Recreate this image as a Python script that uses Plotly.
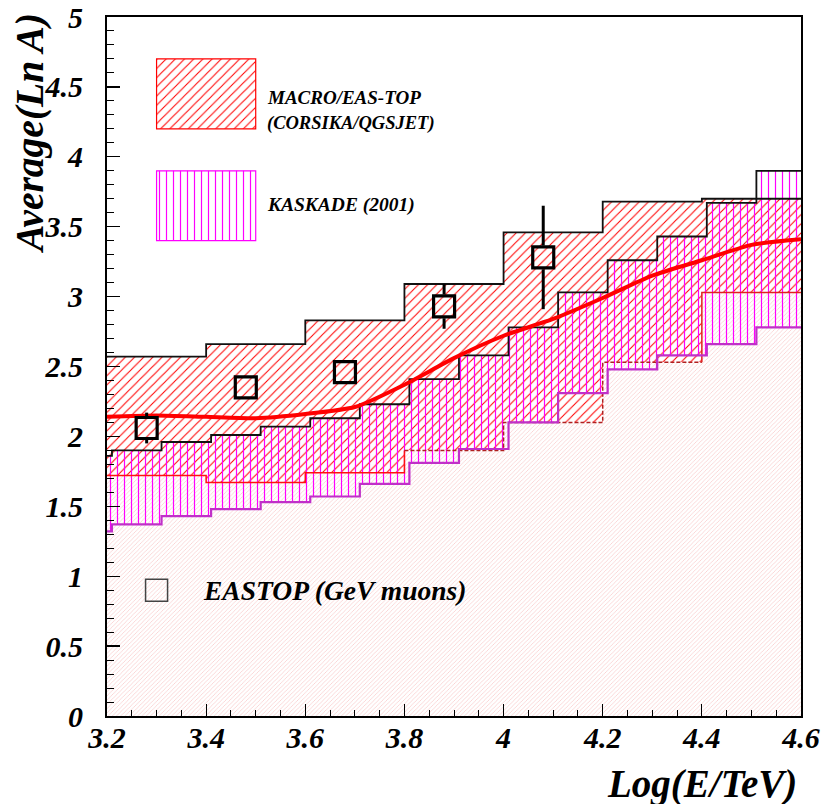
import plotly.graph_objects as go

# ---------------- data ----------------
# MACRO/EAS-TOP (CORSIKA/QGSJET) band, bins of 0.2 in Log(E/TeV)
macro_edges = [3.2, 3.4, 3.6, 3.8, 4.0, 4.2, 4.4, 4.6]
macro_upper = [2.57, 2.66, 2.83, 3.09, 3.46, 3.68, 3.70]
macro_lower = [1.72, 1.67, 1.74, 1.90, 2.10, 2.53, 3.03]

# KASKADE (2001) band
kaskade_edges = [3.2, 3.21, 3.31, 3.41, 3.51, 3.61, 3.71, 3.81, 3.91,
                 4.01, 4.11, 4.21, 4.31, 4.41, 4.51, 4.6]
kaskade_upper = [1.86, 1.90, 1.96, 2.01, 2.07, 2.13, 2.23, 2.41, 2.58,
                 2.78, 3.03, 3.26, 3.43, 3.67, 3.90]
kaskade_lower = [1.32, 1.37, 1.43, 1.48, 1.53, 1.57, 1.66, 1.81, 1.91,
                 2.10, 2.31, 2.48, 2.58, 2.66, 2.78]

# red curve
curve_x = [3.2, 3.3, 3.4, 3.5, 3.6, 3.7, 3.8, 3.9, 4.0, 4.1, 4.2, 4.3, 4.4, 4.5, 4.6]
curve_y = [2.14, 2.15, 2.14, 2.13, 2.16, 2.21, 2.37, 2.56, 2.72, 2.84, 2.99, 3.15, 3.26, 3.37, 3.41]

# EASTOP (GeV muons)
eastop_x = [3.28, 3.48, 3.68, 3.88, 4.08]
eastop_y = [2.06, 2.35, 2.46, 2.93, 3.28]
eastop_err = [0.11, 0.05, 0.05, 0.16, 0.37]

x_ticks = [3.2, 3.4, 3.6, 3.8, 4.0, 4.2, 4.4, 4.6]
y_ticks = [0, 0.5, 1, 1.5, 2, 2.5, 3, 3.5, 4, 4.5, 5]

# ---------------- style ----------------
FONT = "Liberation Serif"
W, H = 822, 804
ML, MR, MT, MB = 107, 21, 17, 88
PH = H - MT - MB
PW = W - ML - MR


def centers(edges):
    return [(a + b) / 2 for a, b in zip(edges[:-1], edges[1:])]


def widths(edges):
    return [b - a for a, b in zip(edges[:-1], edges[1:])]


def steps(edges, vals, i0=0, i1=None):
    if i1 is None:
        i1 = len(vals)
    xs, ys = [], []
    for i in range(i0, i1):
        xs += [edges[i], edges[i + 1]]
        ys += [vals[i], vals[i]]
    return xs, ys


def pat(shape, color, size, sol):
    return dict(shape=shape, fgcolor=color, bgcolor="rgba(0,0,0,0)",
                size=size, solidity=sol, fillmode="replace")


RED_PAT = ("/", "#ff0000", 6.5, 0.16)
MAG_PAT = ("|", "#ff00ff", 7.0, 0.17)

fig = go.Figure()

# light pink region below MACRO lower edge
fig.add_trace(go.Bar(
    x=centers(macro_edges), width=widths(macro_edges), y=macro_lower, base=[0] * len(macro_lower),
    marker=dict(color="rgba(0,0,0,0)", line=dict(width=0),
                pattern=pat("/", "#f9cccc", 3.0, 0.25)),
    showlegend=False, hoverinfo="skip"))

# MACRO band
fig.add_trace(go.Bar(
    x=centers(macro_edges), width=widths(macro_edges),
    y=[u - l for u, l in zip(macro_upper, macro_lower)], base=macro_lower,
    marker=dict(color="rgba(0,0,0,0)", line=dict(width=0), pattern=pat(*RED_PAT)),
    showlegend=False, hoverinfo="skip"))

# KASKADE band
fig.add_trace(go.Bar(
    x=centers(kaskade_edges), width=widths(kaskade_edges),
    y=[u - l for u, l in zip(kaskade_upper, kaskade_lower)], base=kaskade_lower,
    marker=dict(color="rgba(0,0,0,0)", line=dict(width=0), pattern=pat(*MAG_PAT)),
    showlegend=False, hoverinfo="skip"))

# outlines
xs, ys = steps(macro_edges, macro_upper)
fig.add_trace(go.Scatter(x=xs, y=ys, mode="lines", line=dict(color="#111", width=1.8),
                         showlegend=False, hoverinfo="skip"))
xs, ys = steps(macro_edges, macro_lower, 0, 4)
fig.add_trace(go.Scatter(x=xs[:-1], y=ys[:-1], mode="lines", line=dict(color="#ff1010", width=1.5),
                         showlegend=False, hoverinfo="skip"))
xs, ys = steps(macro_edges, macro_lower, 3, 6)
fig.add_trace(go.Scatter(x=xs, y=ys, mode="lines", line=dict(color="#b02020", width=1.5, dash="4px,2px"),
                         showlegend=False, hoverinfo="skip"))
xs, ys = steps(macro_edges, macro_lower, 5, 7)
fig.add_trace(go.Scatter(x=xs[1:], y=ys[1:], mode="lines", line=dict(color="#e02020", width=1.5),
                         showlegend=False, hoverinfo="skip"))

xs, ys = steps(kaskade_edges, kaskade_lower)
fig.add_trace(go.Scatter(x=xs, y=ys, mode="lines", line=dict(color="#c030c8", width=2.2),
                         showlegend=False, hoverinfo="skip"))
xs, ys = steps(kaskade_edges, kaskade_upper)
fig.add_trace(go.Scatter(x=xs, y=ys, mode="lines", line=dict(color="#111", width=1.8),
                         showlegend=False, hoverinfo="skip"))

# red curve
fig.add_trace(go.Scatter(x=curve_x, y=curve_y, mode="lines",
                         line=dict(color="#ff0000", width=4, shape="spline", smoothing=0.6),
                         showlegend=False, hoverinfo="skip"))

# EASTOP error bars (outside the marker) and markers
HALF = 0.085
ex, ey = [], []
for x, y, e in zip(eastop_x, eastop_y, eastop_err):
    if e > HALF:
        ex += [x, x, None, x, x, None]
        ey += [y + HALF, y + e, None, y - HALF, y - e, None]
fig.add_trace(go.Scatter(x=ex, y=ey, mode="lines", line=dict(color="#000", width=3),
                         showlegend=False, hoverinfo="skip"))
fig.add_trace(go.Scatter(x=eastop_x, y=eastop_y, mode="markers",
                         marker=dict(symbol="square-open", size=21, color="#000",
                                     line=dict(width=3.2, color="#000")),
                         showlegend=False, hoverinfo="skip"))

# legend swatches
fig.add_trace(go.Bar(x=[3.4], width=[0.2], y=[0.5], base=[4.2],
                     marker=dict(color="rgba(0,0,0,0)", line=dict(color="#ff0000", width=1.2),
                                 pattern=pat(*RED_PAT)),
                     showlegend=False, hoverinfo="skip"))
fig.add_trace(go.Bar(x=[3.4], width=[0.2], y=[0.5], base=[3.4],
                     marker=dict(color="rgba(0,0,0,0)", line=dict(color="#ff00ff", width=1.2),
                                 pattern=pat(*MAG_PAT)),
                     showlegend=False, hoverinfo="skip"))
fig.add_trace(go.Scatter(x=[3.3], y=[0.9], mode="markers",
                         marker=dict(symbol="square-open", size=22, color="#444",
                                     line=dict(width=1.5, color="#444")),
                         showlegend=False, hoverinfo="skip"))


def py(pix):
    return (H - MB - pix) / PH


def px(pix):
    return (pix - ML) / PW


tfont = dict(family=FONT, color="#000", weight="bold", style="italic")
anns = [
    dict(text="MACRO/EAS-TOP", x=px(265), y=py(97), size=19),
    dict(text="(CORSIKA/QGSJET)", x=px(265), y=py(124), size=18.5),
    dict(text="KASKADE (2001)", x=px(265), y=py(205), size=19.5),
    dict(text="EASTOP (GeV muons)", x=px(201), y=py(590), size=27.5),
]
for a in anns:
    fig.add_annotation(text=a["text"], x=a["x"], y=a["y"], xref="paper", yref="paper",
                       xanchor="left", yanchor="middle", showarrow=False,
                       font=dict(tfont, size=a["size"]))

fig.add_annotation(text="Log(E/TeV)", x=px(799), y=py(784), xref="paper", yref="paper",
                   xanchor="right", yanchor="middle", showarrow=False,
                   font=dict(tfont, size=39))
fig.add_annotation(text="Average(Ln A)", x=px(30), y=py(134), xref="paper", yref="paper",
                   xanchor="center", yanchor="middle", showarrow=False, textangle=-90,
                   font=dict(tfont, size=39.5))

axis_common = dict(showgrid=False, zeroline=False, showline=True, linecolor="#000",
                   linewidth=2, mirror=True, ticks="inside", tickcolor="#000",
                   automargin=False, ticklabeloverflow="allow",
                   tickfont=dict(tfont, size=30))
fig.update_xaxes(range=[3.2, 4.6], tickvals=x_ticks, ticklen=12, tickwidth=1.2,
                 minor=dict(ticks="inside", ticklen=6, dtick=0.05, tickcolor="#000", tickwidth=1),
                 ticklabelstandoff=-6, **axis_common)
fig.update_yaxes(range=[0, 5], tickvals=y_ticks, ticklen=13, tickwidth=1.2,
                 minor=dict(ticks="inside", ticklen=7, dtick=0.1, tickcolor="#000", tickwidth=1),
                 ticklabelstandoff=16, **axis_common)

fig.update_layout(width=W, height=H, margin=dict(l=ML, r=MR, t=MT, b=MB, autoexpand=False),
                  barmode="overlay", bargap=0, paper_bgcolor="white", plot_bgcolor="white",
                  showlegend=False, hovermode=False)

fig.write_html("out.html", config={"displayModeBar": False, "staticPlot": True},
               post_script="document.body.style.margin='0px';document.body.style.overflow='hidden';")
